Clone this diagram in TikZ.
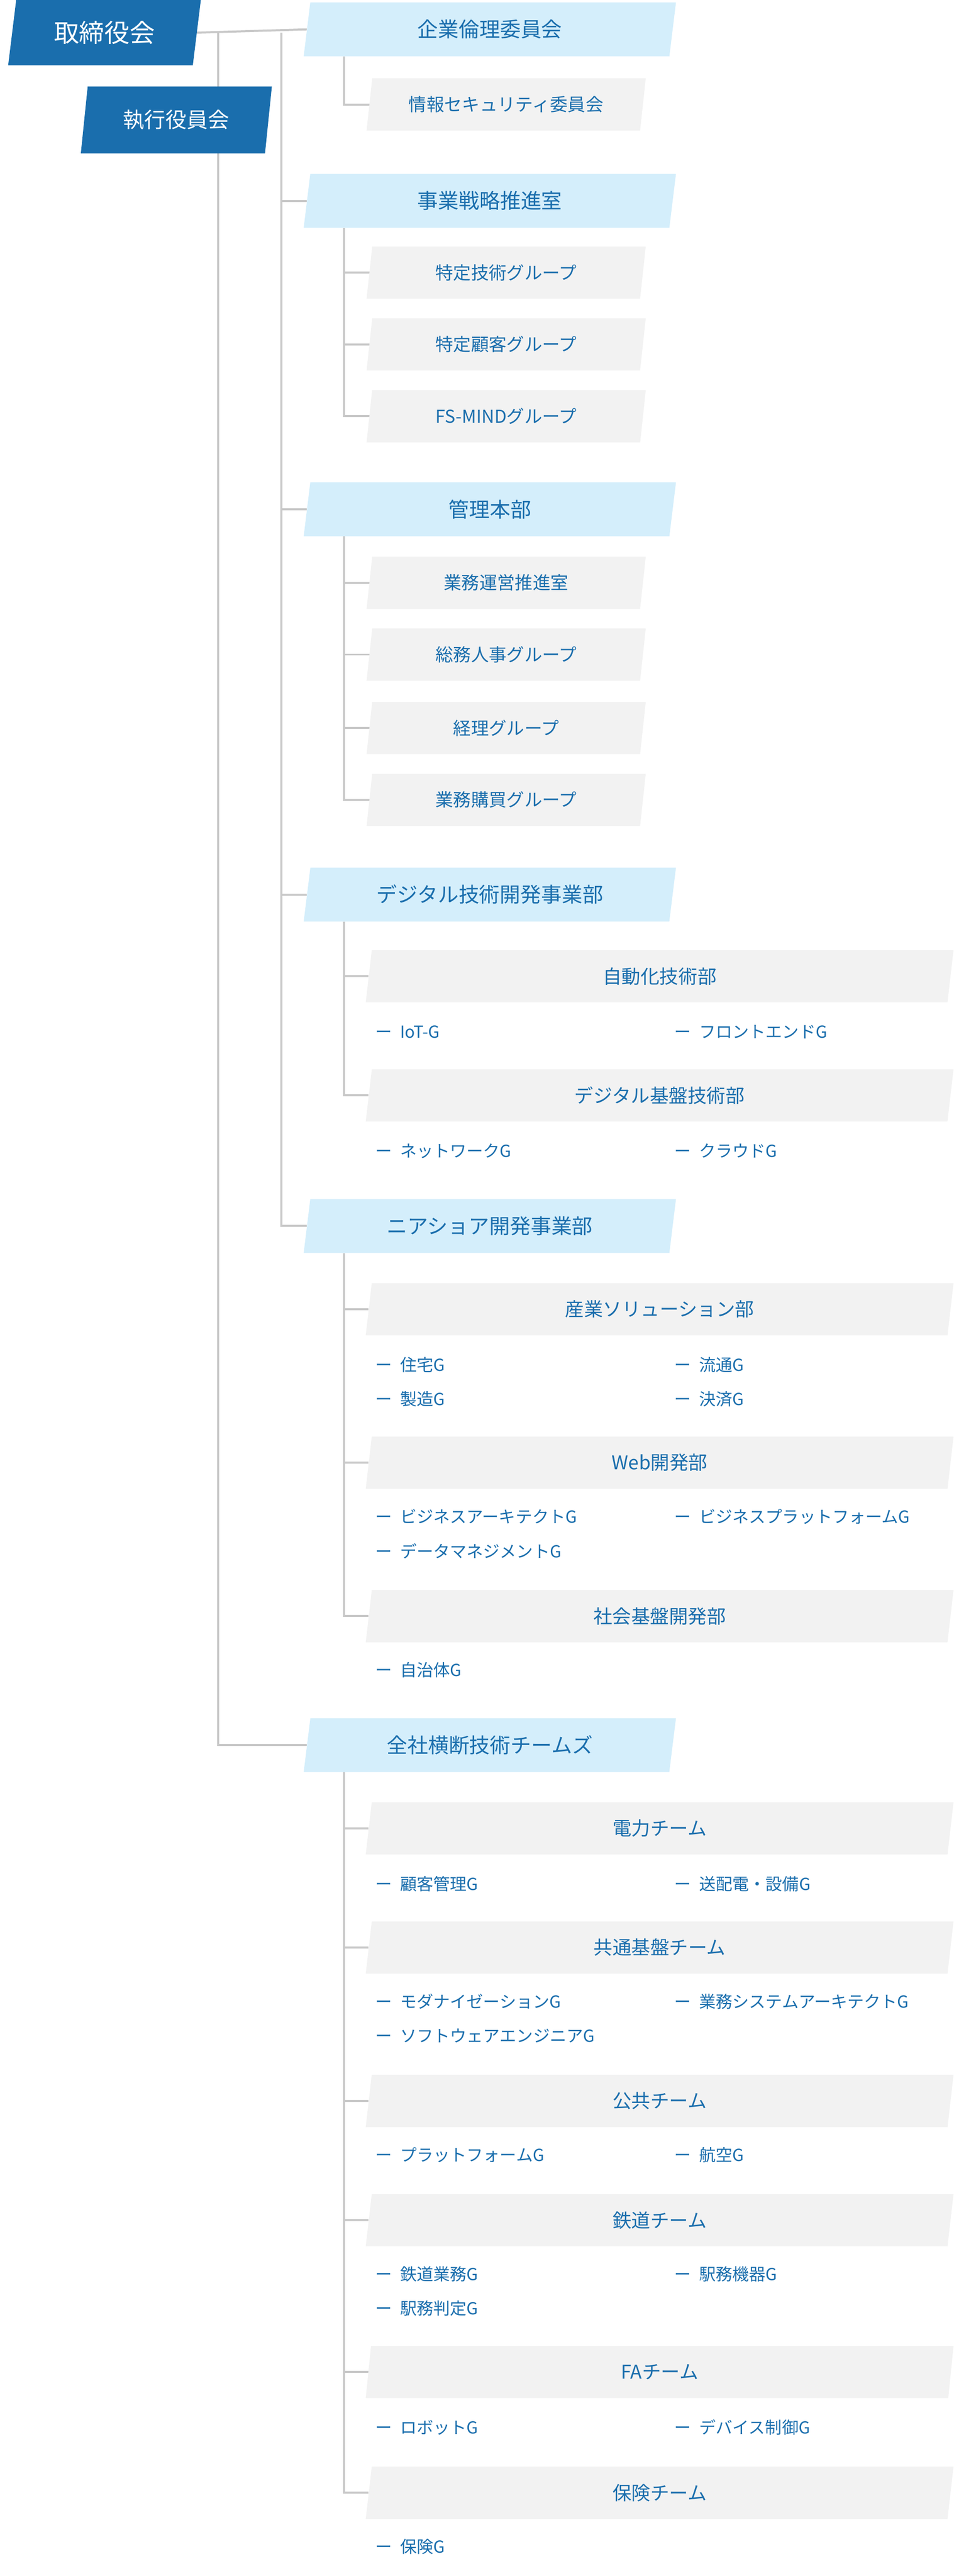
\documentclass[tikz,border=0pt]{standalone}
\usepackage{fontspec}
\setmainfont{Noto Sans CJK JP}
\usetikzlibrary{shapes.geometric,backgrounds}

\definecolor{fsblue}{HTML}{1A6EAD}
\definecolor{fslight}{HTML}{D4EEFB}
\definecolor{fsgrey}{HTML}{F2F2F2}
\definecolor{fsline}{HTML}{C8C8C8}

\tikzset{
  pbox/.style={trapezium, trapezium left angle=71, trapezium right angle=109,
    trapezium stretches body, inner sep=0pt, text=fsblue},
  topbox/.style={pbox, fill=fsblue, text=white, minimum width=118mm, minimum height=40mm, font=\fontsize{44}{50}\selectfont},
  headbox/.style={pbox, fill=fslight, minimum width=228mm, minimum height=33mm, font=\fontsize{36}{42}\selectfont},
  subbox/.style={pbox, fill=fsgrey, minimum width=171mm, minimum height=32mm, font=\fontsize{31}{36}\selectfont},
  widebox/.style={pbox, fill=fsgrey, minimum width=360mm, minimum height=32mm, font=\fontsize{33}{38}\selectfont},
  item/.style={anchor=west, inner sep=0pt, text=fsblue, font=\fontsize{29}{34}\selectfont},
  conn/.style={fsline, line width=3.6pt}
}

\begin{document}
\begin{tikzpicture}[x=1mm, y=-1mm]
  \useasboundingbox (0,0) rectangle (584,1578);

  % board and executives
  \node[topbox] (board) at (64,20) {取締役会};
  \node[topbox, minimum width=117mm, minimum height=41mm, font=\fontsize{37}{42}\selectfont] (exec) at (108,73.5) {執行役員会};

  % trunk columns
  \coordinate (colA) at (133.6,0);
  \coordinate (colB) at (172.3,0);
  \coordinate (colC) at (210.7,0);

  % headings
  \node[headbox] (ethics) at (300,18) {企業倫理委員会};
  \node[headbox] (strategy) at (300,123) {事業戦略推進室};
  \node[headbox] (admin) at (300,312) {管理本部};
  \node[headbox] (digital) at (300,548) {デジタル技術開発事業部};
  \node[headbox] (nearshore) at (300,751) {ニアショア開発事業部};
  \node[headbox] (teams) at (300,1069) {全社横断技術チームズ};

  % small units
  \node[subbox] (security) at (310,64) {情報セキュリティ委員会};
  \foreach \y/\n/\t in {167/tech/特定技術グループ, 211/client/特定顧客グループ, 255/mind/FS-MINDグループ,
      357/ops/業務運営推進室, 401/hr/総務人事グループ, 446/acct/経理グループ, 490/purch/業務購買グループ}
    \node[subbox] (\n) at (310,\y) {\t};

  % departments and teams
  \foreach \y/\n/\t in {598/auto/自動化技術部, 671/base/デジタル基盤技術部,
      802/industry/産業ソリューション部, 896/web/Web開発部, 990/social/社会基盤開発部,
      1120/power/電力チーム, 1193/common/共通基盤チーム, 1287/public/公共チーム,
      1360/rail/鉄道チーム, 1453/fa/FAチーム, 1527/insure/保険チーム}
    \node[widebox] (\n) at (404,\y) {\t};

  % groups
  \foreach \x/\y/\n/\t in {229.8/632/iot/IoT-G, 413/632/front/フロントエンドG,
      229.8/705/net/ネットワークG, 413/705/cloud/クラウドG,
      229.8/836/house/住宅G, 413/836/dist/流通G, 229.8/857/mfg/製造G, 413/857/pay/決済G,
      229.8/929/barch/ビジネスアーキテクトG, 413/929/bplat/ビジネスプラットフォームG,
      229.8/950/data/データマネジメントG, 229.8/1023/local/自治体G,
      229.8/1154/cust/顧客管理G, 413/1154/grid/送配電・設備G,
      229.8/1226/modern/モダナイゼーションG, 413/1226/sysarch/業務システムアーキテクトG,
      229.8/1247/soft/ソフトウェアエンジニアG,
      229.8/1320/plat/プラットフォームG, 413/1320/air/航空G,
      229.8/1393/railops/鉄道業務G, 413/1393/station/駅務機器G, 229.8/1414/judge/駅務判定G,
      229.8/1487/robot/ロボットG, 413/1487/device/デバイス制御G,
      229.8/1560/ins/保険G}
    \node[item] (\n) at (\x,\y) {ー\hspace{5mm}\t};

  % connectors
  \begin{scope}[on background layer]
    \draw[conn] (board.east) -- (ethics.west);
    \draw[conn] (colA |- board.east) |- (teams.west);
    \draw[conn] (colB |- board.east) |- (nearshore.west);
    \foreach \h in {strategy, admin, digital}
      \draw[conn] (colB |- \h.west) -- (\h.west);
    \draw[conn] (colC |- ethics.south) |- (security.west);
    \foreach \h/\c in {strategy/tech, strategy/client, strategy/mind,
        admin/ops, admin/hr, admin/acct, admin/purch,
        digital/auto, digital/base,
        nearshore/industry, nearshore/web, nearshore/social,
        teams/power, teams/common, teams/public, teams/rail, teams/fa, teams/insure}
      \draw[conn] (colC |- \h.south) |- (\c.west);
  \end{scope}
\end{tikzpicture}
\end{document}
